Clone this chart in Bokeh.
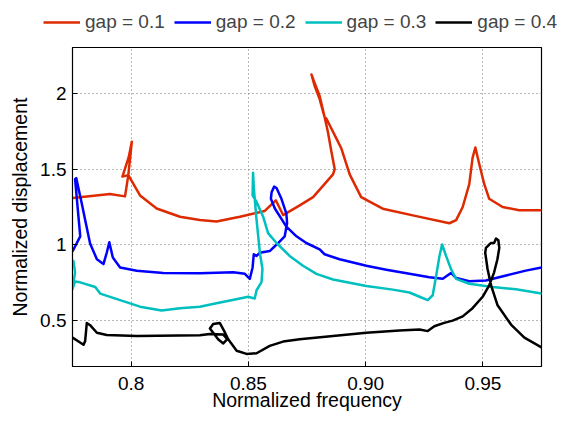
from bokeh.plotting import figure
from bokeh.models import Range1d, FixedTicker, Legend, LegendItem
from bokeh.layouts import column
from bokeh.embed import file_html
from bokeh.resources import INLINE

# gap = 0.1
freq_g01 = [0.7752, 0.7910, 0.7974, 0.7988, 0.8003, 0.7990, 0.7963, 0.7988, 0.8038, 0.8109,
            0.8208, 0.8293, 0.8364, 0.8464, 0.8570, 0.8617, 0.8648, 0.8719, 0.8776, 0.8861,
            0.8868, 0.8854, 0.8839, 0.8825, 0.8804, 0.8782, 0.8769, 0.8782, 0.8804, 0.8825,
            0.8833, 0.8875, 0.8896, 0.8932, 0.8981, 0.9073, 0.9216, 0.9357, 0.9386, 0.9414,
            0.9442, 0.9456, 0.9468, 0.9485, 0.9506, 0.9527, 0.9584, 0.9655, 0.9750]
disp_g01 = [1.31, 1.336, 1.32, 1.46, 1.68, 1.58, 1.45, 1.46, 1.326, 1.24,
            1.186, 1.164, 1.154, 1.186, 1.224, 1.294, 1.197, 1.261, 1.315, 1.465,
            1.50, 1.616, 1.745, 1.842, 1.981, 2.068, 2.122, 2.05, 1.96, 1.842,
            1.831, 1.702, 1.637, 1.465, 1.315, 1.239, 1.190, 1.143, 1.164, 1.25,
            1.40, 1.573, 1.642, 1.53, 1.40, 1.304, 1.25, 1.229, 1.229]

# gap = 0.2
freq_g02 = [0.7751, 0.7783, 0.7761, 0.7766, 0.7790, 0.7804, 0.7825, 0.7854, 0.7882, 0.7896,
            0.7907, 0.7922, 0.7953, 0.8024, 0.8137, 0.8293, 0.8435, 0.8485, 0.8506, 0.8518,
            0.8523, 0.8535, 0.8549, 0.8591, 0.8627, 0.8655, 0.8665, 0.8662, 0.8641, 0.8620,
            0.8610, 0.8599, 0.8596, 0.8613, 0.8662, 0.8705, 0.8747, 0.8804, 0.8825, 0.8889,
            0.8946, 0.9003, 0.9088, 0.9187, 0.9272, 0.9329, 0.9364, 0.9386, 0.9442, 0.9513,
            0.9599, 0.9683, 0.9750]
disp_g02 = [0.96, 1.057, 1.433, 1.44, 1.27, 1.164, 1.01, 0.906, 0.874, 0.949,
            1.018, 0.917, 0.852, 0.831, 0.816, 0.814, 0.82, 0.81, 0.777, 0.852,
            0.939, 0.928, 0.949, 0.96, 1.013, 1.057, 1.143, 1.207, 1.304, 1.375,
            1.384, 1.347, 1.304, 1.24, 1.121, 1.057, 1.013, 0.971, 0.939, 0.906,
            0.885, 0.863, 0.837, 0.81, 0.788, 0.777, 0.816, 0.782, 0.762, 0.766,
            0.799, 0.831, 0.852]

# gap = 0.3
freq_g03 = [0.7754, 0.7761, 0.7750, 0.7761, 0.7783, 0.7847, 0.7868, 0.7953, 0.8038, 0.8130,
            0.8208, 0.8293, 0.8364, 0.8464, 0.8499, 0.8527, 0.8535, 0.8556, 0.8560, 0.8549,
            0.8535, 0.8523, 0.8520, 0.8518, 0.8535, 0.8563, 0.8584, 0.8620, 0.8676, 0.8733,
            0.8790, 0.8861, 0.9003, 0.9116, 0.9187, 0.9230, 0.9265, 0.9286, 0.9301, 0.9315,
            0.9326, 0.9343, 0.9364, 0.9386, 0.9442, 0.9542, 0.9641, 0.9750]
disp_g03 = [0.895, 0.82, 0.71, 0.76, 0.754, 0.723, 0.68, 0.637, 0.594, 0.568,
            0.584, 0.594, 0.616, 0.648, 0.659, 0.648, 0.702, 0.755, 0.842, 0.949,
            1.164, 1.377, 1.476, 1.326, 1.283, 1.186, 1.078, 1.013, 0.928, 0.863,
            0.81, 0.773, 0.73, 0.706, 0.687, 0.659, 0.637, 0.669, 0.799, 0.928,
            1.003, 0.928, 0.842, 0.777, 0.745, 0.723, 0.708, 0.68]

# gap = 0.4
freq_g04 = [0.7750, 0.7797, 0.7804, 0.7811, 0.7825, 0.7854, 0.7896, 0.8024, 0.8293, 0.8336,
            0.8393, 0.8410, 0.8393, 0.8371, 0.8336, 0.8350, 0.8378, 0.8397, 0.8414, 0.8450,
            0.8492, 0.8535, 0.8591, 0.8648, 0.8719, 0.8861, 0.9003, 0.9144, 0.9230, 0.9265,
            0.9293, 0.9335, 0.9371, 0.9414, 0.9456, 0.9499, 0.9527, 0.9548, 0.9562, 0.9570,
            0.9566, 0.9556, 0.9548, 0.9535, 0.9527, 0.9513, 0.9510, 0.9520, 0.9535, 0.9562,
            0.9620, 0.9677, 0.9750]
disp_g04 = [0.39, 0.343, 0.368, 0.487, 0.472, 0.422, 0.407, 0.401, 0.405, 0.414,
            0.41, 0.38, 0.352, 0.379, 0.45, 0.48, 0.487, 0.433, 0.379, 0.304,
            0.283, 0.287, 0.336, 0.364, 0.379, 0.401, 0.422, 0.437, 0.444, 0.433,
            0.465, 0.487, 0.502, 0.53, 0.584, 0.659, 0.734, 0.82, 0.906, 0.981,
            1.031, 1.042, 1.013, 1.013, 1.003, 0.981, 0.949, 0.842, 0.734, 0.605,
            0.476, 0.39, 0.326]

series_labels = ["gap = 0.1", "gap = 0.2", "gap = 0.3", "gap = 0.4"]
series_colors = ["#DD2A00", "#0000FF", "#00BFBF", "#000000"]

x_ticks = [0.8, 0.85, 0.9, 0.95]
x_tick_labels = ["0.8", "0.85", "0.90", "0.95"]
y_ticks = [0.5, 1.0, 1.5, 2.0]
y_tick_labels = ["0.5", "1", "1.5", "2"]

FONT = "Liberation Sans"
W = 566
LEG_H = 36
H = 413 - LEG_H
B_LEFT, B_RIGHT, B_TOP, B_BOTTOM = 72, 25, 11, 43
LINE_W = 2.5
freqs = [freq_g01, freq_g02, freq_g03, freq_g04]
disps = [disp_g01, disp_g02, disp_g03, disp_g04]

# ---- legend strip: its own figure above the plot; its data lie outside its view ----
lg = figure(width=W, height=LEG_H, output_backend="svg", toolbar_location=None,
            x_axis_type=None, y_axis_type=None,
            x_range=Range1d(0.775, 0.975), y_range=Range1d(10, 11),
            min_border=0, min_border_left=0, min_border_right=0,
            min_border_top=0, min_border_bottom=0,
            background_fill_color="white", border_fill_color="white")
lg.frame_align = False
lg.outline_line_color = None
lg.grid.visible = False
leg_renderers = [lg.line(xs, ys, line_color=c, line_width=LINE_W)
                 for xs, ys, c in zip(freqs, disps, series_colors)]
legend = Legend(items=[LegendItem(label=l, renderers=[r]) for l, r in zip(series_labels, leg_renderers)],
                orientation="horizontal", location=(43, 3),
                label_text_font=FONT, label_text_font_size="19px",
                glyph_width=37, glyph_height=20, label_standoff=5, spacing=9,
                padding=0, margin=0, border_line_color=None,
                background_fill_alpha=0)
lg.add_layout(legend, "center")

# ---- main plot ----
p = figure(width=W, height=H, output_backend="svg", toolbar_location=None,
           x_range=Range1d(0.775, 0.975), y_range=Range1d(0.2, 2.3),
           min_border_left=B_LEFT, min_border_right=B_RIGHT, min_border_top=B_TOP,
           min_border_bottom=B_BOTTOM, background_fill_color="white",
           border_fill_color="white")
p.frame_align = False

p.outline_line_color = "black"
p.outline_line_width = 1.2

for xs, ys, c in zip(freqs, disps, series_colors):
    p.line(xs, ys, line_color=c, line_width=LINE_W, line_join="round", line_cap="round")

p.xaxis.ticker = FixedTicker(ticks=x_ticks)
p.xaxis.major_label_overrides = {t: l for t, l in zip(x_ticks, x_tick_labels)}
p.yaxis.ticker = FixedTicker(ticks=y_ticks)
p.yaxis.major_label_overrides = {t: l for t, l in zip(y_ticks, y_tick_labels)}

for ax in (p.xaxis, p.yaxis):
    ax.major_tick_in = 5
    ax.major_tick_out = 0
    ax.minor_tick_line_color = None
    ax.axis_line_color = "black"
    ax.major_tick_line_color = "black"
    ax.major_label_text_font = FONT
    ax.major_label_text_font_size = "19px"
    ax.major_label_text_color = "black"
    ax.axis_label_text_font = FONT
    ax.axis_label_text_font_size = "19.5px"
    ax.axis_label_text_font_style = "normal"
    ax.axis_label_text_color = "black"

p.xaxis.axis_label = "Normalized frequency"
p.yaxis.axis_label = "Normalized displacement"
p.xaxis.major_label_standoff = 10
p.xaxis.axis_label_standoff = -4
p.yaxis.major_label_standoff = 6
p.yaxis.axis_label_standoff = 6

for g in (p.xgrid, p.ygrid):
    g.grid_line_color = "#707070"
    g.grid_line_dash = "1 3"
    g.grid_line_width = 1

layout = column(lg, p, spacing=0)
open("out.html", "w").write(file_html(layout, INLINE))
